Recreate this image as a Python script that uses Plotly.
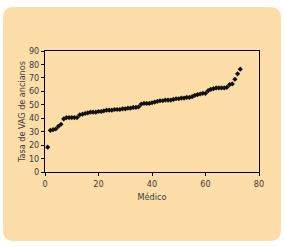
import plotly.graph_objects as go

medico = list(range(1, 74))
tasa = [18.5, 31, 31.5, 32, 34, 35.5, 39.5, 40.5, 40.5, 40.5, 40.5, 40.5, 42.5, 43, 43.5,
        44, 44.5, 44.5, 44.5, 45, 45, 45.5, 46, 46, 46, 46.5, 46.5, 46.5, 47, 47,
        47.5, 47.5, 48, 48, 48.5, 50.5, 51, 51, 51, 51.5, 52, 52.5, 53, 53, 53.5,
        53.5, 53.5, 54, 54.5, 54.5, 55, 55, 55.5, 55.5, 56, 57, 57.5, 58, 58.5, 58.5,
        60.5, 61.5, 62, 62.5, 62.5, 62.5, 62.5, 63, 65, 65.5, 69, 73, 76.5]

W, H = 285, 247
L, R, T, B = 45, 259, 51, 172

def px(X):
    return (X - L) / (R - L)

def py(Y):
    return (B - Y) / (B - T)

x0, x1, y0, y1, r = 3, 281, 7, 241, 11
path = (f"M {px(x0+r)},{py(y0)} L {px(x1-r)},{py(y0)} Q {px(x1)},{py(y0)} {px(x1)},{py(y0+r)} "
        f"L {px(x1)},{py(y1-r)} Q {px(x1)},{py(y1)} {px(x1-r)},{py(y1)} "
        f"L {px(x0+r)},{py(y1)} Q {px(x0)},{py(y1)} {px(x0)},{py(y1-r)} "
        f"L {px(x0)},{py(y0+r)} Q {px(x0)},{py(y0)} {px(x0+r)},{py(y0)} Z")

font = "DejaVu Sans Condensed, Liberation Sans Narrow, sans-serif"
txt = "#3a3a3a"

fig = go.Figure(go.Scatter(x=medico, y=tasa, mode="markers",
                           marker=dict(symbol="diamond", size=4, color="#111111"),
                           cliponaxis=False))

fig.update_layout(
    width=W, height=H,
    margin=dict(l=L, r=W - R, t=T, b=H - B),
    paper_bgcolor="white", plot_bgcolor="rgba(0,0,0,0)",
    showlegend=False,
    font=dict(family=font, size=9, color=txt),
    shapes=[dict(type="path", xref="paper", yref="paper", path=path,
                 fillcolor="#FDDEA9", line=dict(width=0), layer="below")],
)
fig.update_xaxes(range=[0, 80], tickvals=[0, 20, 40, 60, 80], showgrid=False, zeroline=False,
                 showline=True, linecolor="black", linewidth=1, mirror=True,
                 ticks="outside", ticklen=3, tickcolor="black",
                 title=dict(text="Médico", font=dict(size=9, color=txt), standoff=5))
fig.update_yaxes(range=[0, 90], tickvals=list(range(0, 91, 10)), showgrid=False, zeroline=False,
                 showline=True, linecolor="black", linewidth=1, mirror=True,
                 ticks="outside", ticklen=3, tickcolor="black",
                 title=dict(text="Tasa de VAG de ancianos", font=dict(size=9, color=txt), standoff=1))

fig.write_html("out.html")
